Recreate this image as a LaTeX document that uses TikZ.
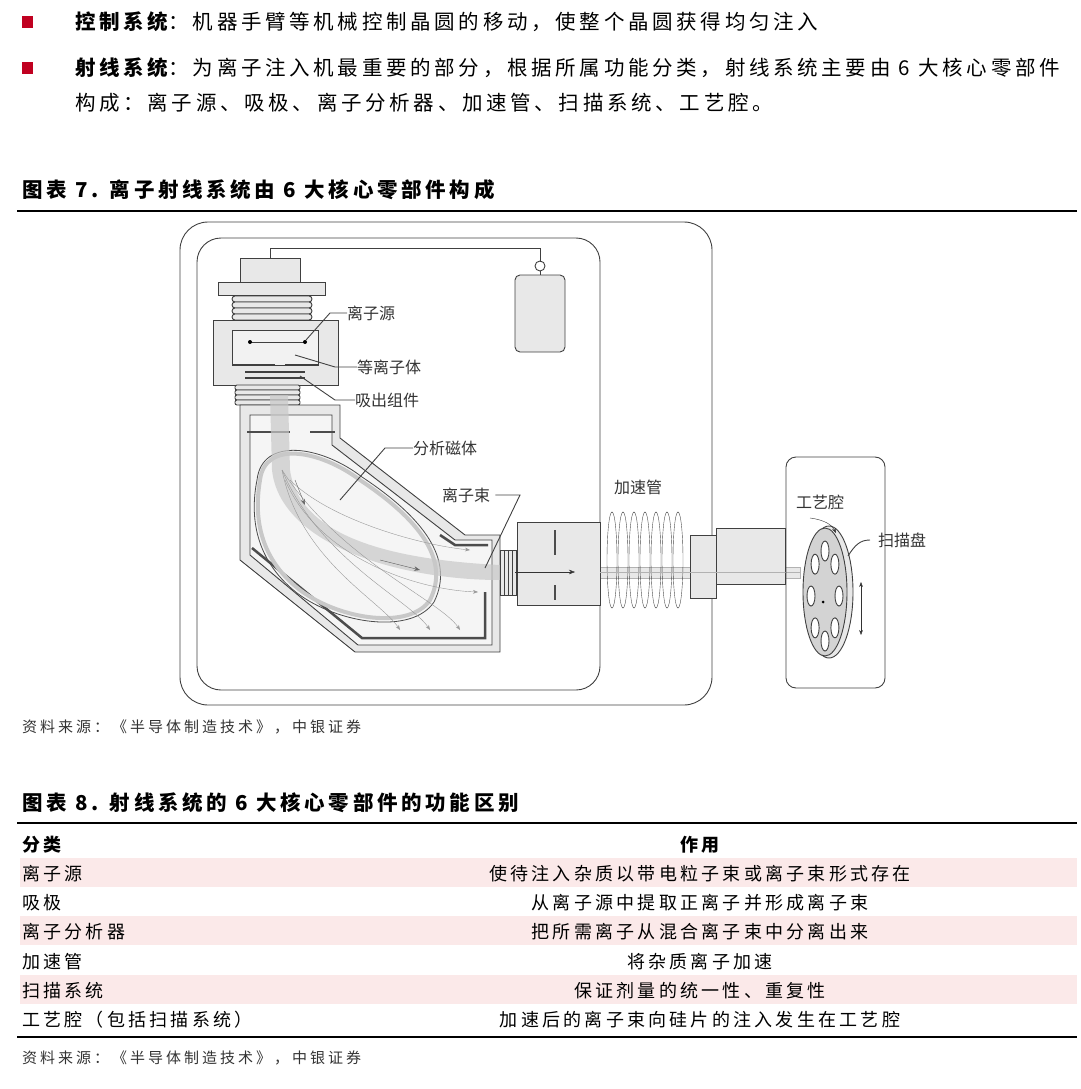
\documentclass[tikz,border=0pt]{standalone}
\usepackage{fontspec}
\setmainfont{Noto Sans CJK SC}
\usetikzlibrary{arrows.meta}
\definecolor{bul}{RGB}{192,0,32}
\definecolor{pinkrow}{RGB}{251,233,233}
\definecolor{gr}{RGB}{200,200,200}
\definecolor{lgr}{RGB}{232,232,232}
\begin{document}
\begin{tikzpicture}[x=1pt,y=-1pt,
  body/.style={anchor=west,inner sep=0,font=\fontsize{20.5}{22}\selectfont\addfontfeature{LetterSpace=18}},
  head/.style={anchor=west,inner sep=0,font=\fontsize{20.5}{22}\selectfont\bfseries\addfontfeature{LetterSpace=18}},
  src/.style={anchor=west,inner sep=0,font=\fontsize{15}{18}\selectfont\itshape\addfontfeature{LetterSpace=20},text=black!80},
  cell/.style={inner sep=0,font=\fontsize{18}{20}\selectfont\addfontfeature{LetterSpace=18}},
  bcell/.style={inner sep=0,font=\fontsize{18}{20}\selectfont\bfseries\addfontfeature{LetterSpace=18}},
  lab/.style={anchor=west,inner sep=0,font=\fontsize{16}{18}\selectfont,text=black!80},
  part/.style={draw=black!75,line width=0.9pt,fill=lgr},
  ld/.style={draw=black!75,line width=0.9pt}]
\useasboundingbox (0,0) rectangle (1080,1089);
% ---- text ----
\fill[bul] (22,16) rectangle (33,28);
\fill[bul] (22,62) rectangle (33,74);
\node[head] (h1) at (75,22) {控制系统};
\node[body] (b1) at (h1.east) {：机器手臂等机械控制晶圆的移动，使整个晶圆获得均匀注入};
\node[head] (h2) at (75,68) {射线系统};
\node[body] (b2) at (h2.east) {：为离子注入机最重要的部分，根据所属功能分类，射线系统主要由 6 大核心零部件};
\node[body] (b3) at (75,103) {构成：离子源、吸极、离子分析器、加速管、扫描系统、工艺腔。};
\node[head] (t7) at (22,190) {图表 7. 离子射线系统由 6 大核心零部件构成};
\draw[line width=1.5pt] (17,211) -- (1077,211);
\node[src] (s1) at (22,727) {资料来源：《半导体制造技术》，中银证券};
% ---- diagram ----
\draw[ld,rounded corners=28] (180,222) rectangle (712,705);
\draw[ld,rounded corners=24] (197,238) rectangle (600,690);
% gas line
\draw[ld] (270,258) -- (270,248) -- (540,248) -- (540,262);
\draw[ld] (540,266) circle (5);
\draw[part,rounded corners=5] (515,275) rectangle (565,352);
\draw[ld] (540,271) -- (540,275);
% ion source
\draw[part] (240,258) rectangle (300,282);
\draw[part] (218,282) rectangle (325,295);
\foreach \i in {0,1,2,3}{\draw[part,rounded corners=3] (232,{296+\i*6}) rectangle (312,{302+\i*6});}
\draw[part] (213,320) rectangle (338,385);
\draw[ld,fill=white!90!gray] (232,330) rectangle (318,365);
\draw[ld,line width=2pt] (232,365) -- (275,365) (285,365) -- (318,365);
\draw[ld] (250,342) -- (305,342);
\fill (250,342) circle (2); \fill (305,342) circle (2);
\draw[ld,line width=2pt] (245,372) -- (305,372) (245,378) -- (305,378);
\foreach \i in {0,1,2,3}{\draw[part,rounded corners=2] (235,{385+\i*5}) rectangle (300,{390+\i*5});}
% analyser chamber
\draw[part] (240,405) -- (340,405) -- (340,438) -- (465,535) -- (500,535) -- (500,652) -- (355,652) -- (240,560) -- cycle;
\fill[white!92!gray,draw=black!75,line width=0.9pt] (250,415) -- (332,415) -- (332,445) -- (455,540) -- (492,540) -- (492,645) -- (358,645) -- (250,555) -- cycle;
\draw[line width=2.5pt,black!70] (247,432) -- (290,432) (310,432) -- (335,432);
\draw[line width=2.5pt,black!70] (252,548) -- (362,638) -- (485,638) -- (485,592);
\draw[line width=2.5pt,black!70] (440,535) -- (455,545) -- (488,545);
% magnet ring
\draw[line width=4pt,gr] (260,480) .. controls (265,440) and (320,450) .. (360,480) .. controls (420,520) and (450,560) .. (430,600) .. controls (410,630) and (340,620) .. (300,590) .. controls (255,555) and (255,510) .. (260,480);
\draw[black!70,line width=0.8pt] (257,480) .. controls (262,436) and (322,446) .. (362,477) .. controls (424,518) and (455,560) .. (434,602) .. controls (412,635) and (338,624) .. (297,593) .. controls (251,557) and (251,510) .. (257,480);
% beams
\fill[gr,opacity=0.7] (270,395) -- (288,395) -- (290,470) .. controls (300,540) and (400,560) .. (500,565) -- (500,580) .. controls (400,580) and (280,545) .. (272,470) -- cycle;
\foreach \a/\b in {300/380,320/410,340/440}{\draw[black!40,-{Stealth[length=5pt]}] (282,470) .. controls (\a,560) and (\b,600) .. (\b+20,630);}
\draw[black!40,-{Stealth[length=5pt]}] (285,480) .. controls (320,560) and (420,590) .. (478,592);
\draw[black!40,-{Stealth[length=5pt]}] (290,480) .. controls (330,520) and (420,545) .. (470,550);
\draw[black!60,-{Stealth[length=6pt]}] (295,480) -- (305,505);
\draw[black!60,-{Stealth[length=6pt]}] (380,560) -- (420,570);
% beam line
\fill[lgr,draw=black!30] (500,567) rectangle (800,578);
% bellows to accel
\foreach \i in {0,...,3}{\draw[part] ({500+\i*4},550) rectangle ({504+\i*4},595);}
\draw[part] (517,522) rectangle (600,605);
\draw[line width=2.5pt,black!70] (555,530) -- (555,555) (555,585) -- (555,600);
\draw[black!80,-{Stealth[length=6pt]}] (515,572) -- (575,572);
% accel tube
\foreach \i in {0,...,6}{\draw[black!70] ({612+\i*11},560) ellipse (5 and 48);}
\draw[part] (690,535) rectangle (716,598);
\draw[part] (716,528) rectangle (785,584);
\draw[black!30] (600,572) -- (800,572);
% wafer chamber
\draw[ld,rounded corners=10] (786,457) rectangle (885,688);
\draw[ld,fill=lgr] (829,592) ellipse (24 and 66);
\draw[ld,fill=gr!80] (825,592) ellipse (22 and 64);
\foreach \ang in {0,45,...,315}{\draw[ld,fill=white] ({825+14*cos(\ang)},{596+45*sin(\ang)}) ellipse (4 and 10);}
\fill (823,602) circle (1.5);
\draw[{Stealth[length=5pt]}-{Stealth[length=5pt]},black!80] (861,582) -- (861,635);
\draw[black!80,-{Stealth[length=5pt]}] (810,518) .. controls (825,520) and (832,525) .. (836,533);
\draw[ld] (848,556) .. controls (855,545) and (860,540) .. (870,540);
% labels
\node[lab] (l1) at (347,313) {离子源};
\draw[ld] (l1.west) -- (330,313) -- (306,340);
\node[lab] (l2) at (357,367) {等离子体};
\draw[ld] (l2.west) -- (335,367) -- (295,355);
\node[lab] (l3) at (355,400) {吸出组件};
\draw[ld] (l3.west) -- (335,400) -- (300,376);
\node[lab] (l4) at (413,448) {分析磁体};
\draw[ld] (l4.west) -- (385,448) -- (340,500);
\node[lab] (l5) at (442,495) {离子束};
\draw[ld] (l5.east) ++(5,0) -- (520,495) -- (485,568);
\node[lab] (l6) at (614,487) {加速管};
\node[lab] (l7) at (796,502) {工艺腔};
\node[lab] (l8) at (878,540) {扫描盘};
% ---- table ----
\node[head] (t8) at (22,803) {图表 8. 射线系统的 6 大核心零部件的功能区别};
\draw[line width=1.5pt] (17,823) -- (1077,823);
\foreach \y in {858,916,975}{\fill[pinkrow] (20,\y) rectangle (1077,\y+29);}
\node[bcell,anchor=west] (c0) at (22,845) {分类};
\node[bcell] (d0) at (700,845) {作用};
\node[cell,anchor=west] (c1) at (22,874) {离子源};
\node[cell] (d1) at (700,874) {使待注入杂质以带电粒子束或离子束形式存在};
\node[cell,anchor=west] (c2) at (22,903) {吸极};
\node[cell] (d2) at (700,903) {从离子源中提取正离子并形成离子束};
\node[cell,anchor=west] (c3) at (22,932) {离子分析器};
\node[cell] (d3) at (700,932) {把所需离子从混合离子束中分离出来};
\node[cell,anchor=west] (c4) at (22,962) {加速管};
\node[cell] (d4) at (700,962) {将杂质离子加速};
\node[cell,anchor=west] (c5) at (22,991) {扫描系统};
\node[cell] (d5) at (700,991) {保证剂量的统一性、重复性};
\node[cell,anchor=west] (c6) at (22,1020) {工艺腔（包括扫描系统）};
\node[cell] (d6) at (700,1020) {加速后的离子束向硅片的注入发生在工艺腔};
\draw[line width=1.5pt] (17,1037) -- (1077,1037);
\node[src] (s2) at (22,1058) {资料来源：《半导体制造技术》，中银证券};
\end{tikzpicture}
\end{document}
